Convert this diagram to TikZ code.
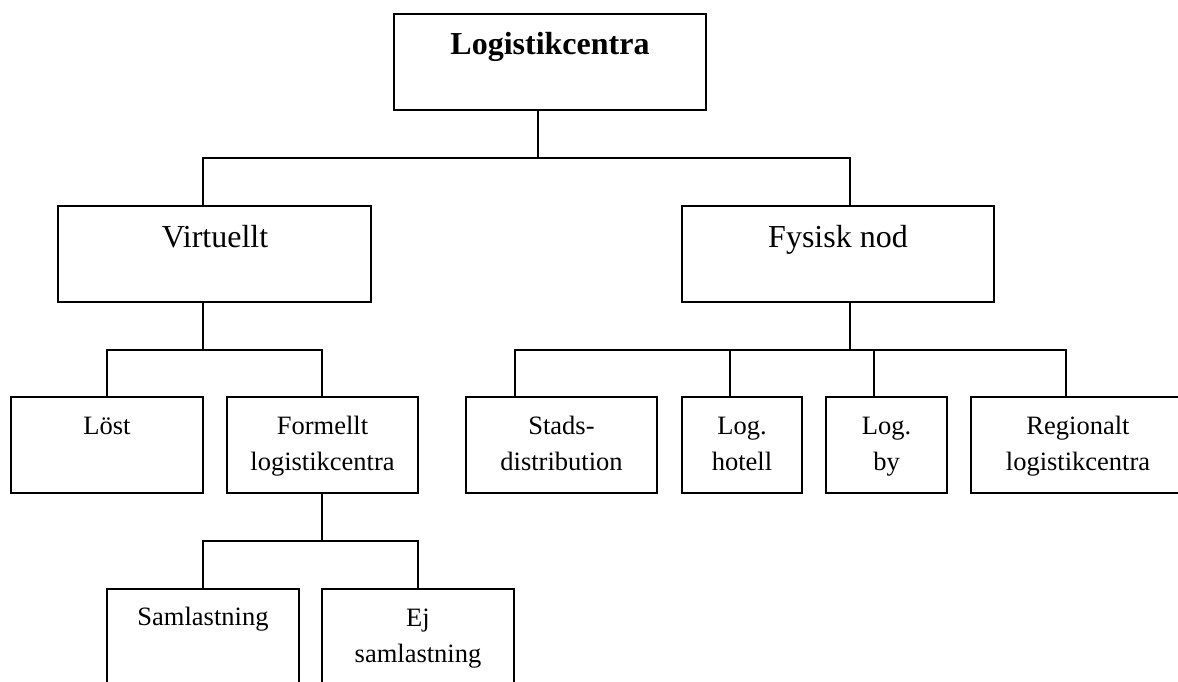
\documentclass[tikz,border=0pt]{standalone}
\usepackage{fontspec}
\setmainfont{Liberation Serif}
\begin{document}
\begin{tikzpicture}[x=1pt,y=-1pt,
  box/.style={draw, line width=1.8pt, rectangle, inner sep=0pt, outer sep=0pt, anchor=north west},
  wire/.style={line width=1.8pt},
  bigtext/.style={font=\fontsize{32}{38}\selectfont, anchor=base, inner sep=0pt},
  smalltext/.style={font=\fontsize{26.5}{36}\selectfont, anchor=base, inner sep=0pt, align=center}]
  % page
  \path[fill=white, use as bounding box] (0,0) rectangle (1178,682);

  % boxes, level 0 and 1
  \node[box, minimum width=312pt, minimum height=96pt] (top)  at (394,14) {};
  \node[box, minimum width=313pt, minimum height=96pt] (virt) at (58,206) {};
  \node[box, minimum width=312pt, minimum height=96pt] (fys)  at (682,206) {};
  % level 2
  \node[box, minimum width=192pt, minimum height=96pt] (lost)  at (11,397) {};
  \node[box, minimum width=191pt, minimum height=96pt] (form)  at (227,397) {};
  \node[box, minimum width=191pt, minimum height=96pt] (stads) at (466,397) {};
  \node[box, minimum width=120pt, minimum height=96pt] (hot)   at (682,397) {};
  \node[box, minimum width=121pt, minimum height=96pt] (by)    at (826,397) {};
  \node[box, minimum width=214pt, minimum height=96pt] (reg)   at (971,397) {};
  % level 3
  \node[box, minimum width=192pt, minimum height=120pt] (saml) at (107,589) {};
  \node[box, minimum width=192pt, minimum height=120pt] (ej)   at (322,589) {};

  % labels (anchored at the baseline of their last line)
  \node[bigtext] (tTop) at (550,55) {\textbf{Logistikcentra}};
  \node[bigtext] (tVirt) at (215,247) {Virtuellt};
  \node[bigtext] (tFys) at (838,247) {Fysisk nod};
  \node[smalltext] (tLost) at (107,434) {Löst};
  \node[smalltext] (tForm) at (322.5,470) {Formellt\\logistikcentra};
  \node[smalltext] (tStads) at (561.5,470) {Stads-\\distribution};
  \node[smalltext] (tHot) at (742,470) {Log.\\hotell};
  \node[smalltext] (tBy) at (886.5,470) {Log.\\by};
  \node[smalltext] (tReg) at (1078,470) {Regionalt\\logistikcentra};
  \node[smalltext] (tSaml) at (203,625) {Samlastning};
  \node[smalltext] (tEj) at (418,662) {Ej\\samlastning};

  % junction points of the connector buses
  \coordinate (jTop) at (538,158);
  \coordinate (jV) at (203,158);
  \coordinate (jF) at (850,158);
  \coordinate (jVirt) at (203,350);
  \coordinate (v1) at (107,350);
  \coordinate (v2) at (322,350);
  \coordinate (jFys) at (850,350);
  \coordinate (s1) at (515,350);
  \coordinate (s2) at (730,350);
  \coordinate (s3) at (874,350);
  \coordinate (s4) at (1066,350);
  \coordinate (jForm) at (322,541);
  \coordinate (f1) at (203,541);
  \coordinate (f2) at (418,541);

  % connectors
  \draw[wire] (jTop |- top.south) -- (jTop);
  \draw[wire] (jV |- virt.north) -- (jV) -- (jF) -- (jF |- fys.north);

  \draw[wire] (jVirt |- virt.south) -- (jVirt);
  \draw[wire] (v1 |- lost.north) -- (v1) -- (v2) -- (v2 |- form.north);

  \draw[wire] (jFys |- fys.south) -- (jFys);
  \draw[wire] (s1 |- stads.north) -- (s1) -- (s4) -- (s4 |- reg.north);
  \draw[wire] (s2) -- (s2 |- hot.north);
  \draw[wire] (s3) -- (s3 |- by.north);

  \draw[wire] (jForm |- form.south) -- (jForm);
  \draw[wire] (f1 |- saml.north) -- (f1) -- (f2) -- (f2 |- ej.north);
\end{tikzpicture}
\end{document}
